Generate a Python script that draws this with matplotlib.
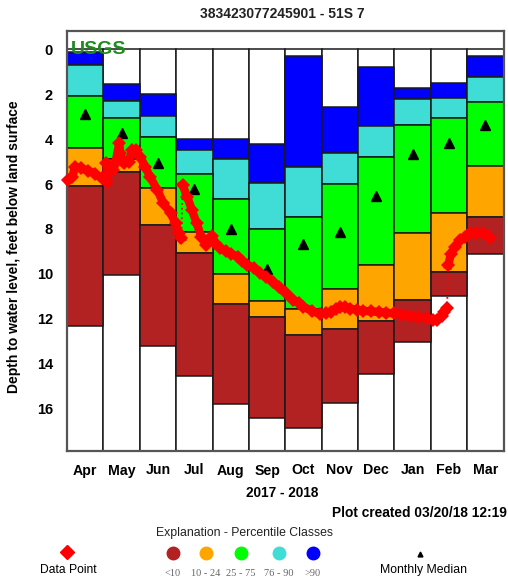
import calendar
import pandas as pd
import matplotlib
matplotlib.use("Agg")
import matplotlib.pyplot as plt
from matplotlib.lines import Line2D

plt.rcParams["font.family"] = ["Liberation Sans", "DejaVu Sans"]

# ---- monthly percentile statistics (feet below land surface) ----
months = ["Apr", "May", "Jun", "Jul", "Aug", "Sep", "Oct", "Nov", "Dec", "Jan", "Feb", "Mar"]
level_highest = [0.10, 1.53, 2.00, 4.00, 4.00, 4.23, 0.28, 2.56, 0.77, 1.74, 1.49, 0.28]
pct_90 = [0.70, 2.30, 2.97, 4.49, 4.90, 5.94, 5.23, 4.64, 3.42, 2.23, 2.18, 1.22]
pct_75 = [2.07, 3.08, 3.89, 5.57, 6.68, 8.01, 7.46, 6.00, 4.81, 3.37, 3.05, 2.36]
pct_25 = [4.39, 4.90, 6.16, 8.16, 10.01, 11.22, 11.57, 10.70, 9.61, 8.17, 7.28, 5.20]
pct_10 = [6.08, 5.48, 7.82, 9.09, 11.35, 11.94, 12.72, 12.48, 12.11, 11.17, 9.91, 7.46]
level_lowest = [12.32, 10.05, 13.21, 14.56, 15.82, 16.42, 16.89, 15.78, 14.47, 13.03, 10.99, 9.12]
monthly_median = [2.90, 3.74, 5.05, 6.24, 8.02, 9.80, 8.68, 8.13, 6.52, 4.68, 4.19, 3.37]

# ---- measured water levels, split where the record has gaps ----
seg1_dates = ["2017-04-01", "2017-04-05", "2017-04-07", "2017-04-12", "2017-04-18",
              "2017-04-24", "2017-04-29", "2017-05-04", "2017-05-03", "2017-05-09",
              "2017-05-11", "2017-05-14", "2017-05-15", "2017-05-18", "2017-05-22",
              "2017-05-25", "2017-05-28", "2017-06-01", "2017-06-05", "2017-06-09",
              "2017-06-15", "2017-06-20", "2017-06-26", "2017-06-30", "2017-07-03",
              "2017-07-05"]
seg1_depth = [5.84, 5.68, 5.25, 5.30, 5.40,
              5.55, 5.75, 5.90, 5.08, 5.38,
              5.00, 4.19, 4.64, 5.08, 5.00,
              4.49, 4.49, 4.79, 5.23, 5.68,
              6.27, 6.86, 7.31, 7.76, 8.20,
              8.42]
seg2_dates = ["2017-07-06", "2017-07-10", "2017-07-14", "2017-07-18", "2017-07-22",
              "2017-07-26", "2017-07-29", "2017-07-31", "2017-08-03", "2017-08-07",
              "2017-08-12", "2017-08-16", "2017-08-22", "2017-08-26", "2017-08-30",
              "2017-09-05", "2017-09-10", "2017-09-15", "2017-09-20", "2017-09-25",
              "2017-10-01", "2017-10-07", "2017-10-12", "2017-10-16", "2017-10-23",
              "2017-10-30", "2017-11-04", "2017-11-08", "2017-11-12", "2017-11-16",
              "2017-11-20", "2017-11-24", "2017-11-30", "2017-12-05", "2017-12-12",
              "2017-12-18", "2017-12-24", "2017-12-31", "2018-01-07", "2018-01-14",
              "2018-01-21", "2018-01-28", "2018-02-02", "2018-02-05", "2018-02-09",
              "2018-02-11", "2018-02-13"]
seg2_depth = [6.05, 6.57, 7.16, 7.76, 8.35,
              8.70, 8.50, 8.30, 8.65, 8.87,
              9.00, 9.10, 9.25, 9.45, 9.60,
              9.75, 9.98, 10.15, 10.35, 10.60,
              10.85, 11.15, 11.30, 11.47, 11.65,
              11.80, 11.75, 11.69, 11.55, 11.47,
              11.50, 11.55, 11.62, 11.65, 11.68,
              11.70, 11.73, 11.77, 11.82, 11.88,
              11.93, 11.99, 12.04, 12.06, 11.88,
              11.70, 11.54]
seg3_dates = ["2018-02-14", "2018-02-16", "2018-02-19", "2018-02-23", "2018-02-27",
              "2018-03-03", "2018-03-08", "2018-03-14", "2018-03-18", "2018-03-20"]
seg3_depth = [9.61, 9.10, 8.80, 8.50, 8.35,
              8.20, 8.20, 8.20, 8.30, 8.42]

colors = {"lt10": "#B22222", "10_24": "#FFA500", "25_75": "#00FF00",
          "76_90": "#40DDD6", "gt90": "#0000FF"}
BOTTOM = 17.9
TOP = -0.82


def date_to_x(dates):
    out = []
    for d in pd.to_datetime(dates):
        idx = (d.year - 2017) * 12 + d.month - 4
        ndays = calendar.monthrange(d.year, d.month)[1]
        out.append(idx - 0.5 + (d.day - 0.5) / ndays)
    return out


fig = plt.figure(figsize=(5.08, 5.81), dpi=100)
ax = fig.add_axes([67 / 508, 1 - 451 / 581, (503.5 - 67) / 508, (451 - 31) / 581])

x = list(range(len(months)))
edge = dict(edgecolor="#1a1a1a", linewidth=1.1, width=1.0)
# white background column from land surface to bottom
ax.bar(x, [BOTTOM] * 12, bottom=0, color="white", **edge)
bands = [
    (level_highest, pct_90, colors["gt90"]),
    (pct_90, pct_75, colors["76_90"]),
    (pct_75, pct_25, colors["25_75"]),
    (pct_25, pct_10, colors["10_24"]),
    (pct_10, level_lowest, colors["lt10"]),
]
for top, bot, col in bands:
    ax.bar(x, [b - t for t, b in zip(top, bot)], bottom=top, color=col, **edge)

ax.plot(x, monthly_median, linestyle="none", marker="^", color="black",
        markersize=6.5, zorder=5)

# water-level record
for d, v in [(seg1_dates, seg1_depth), (seg2_dates, seg2_depth), (seg3_dates, seg3_depth)]:
    ax.plot(date_to_x(d), v, color="red", linewidth=6, marker="D", markersize=7,
            markeredgewidth=0, solid_joinstyle="round", zorder=6, clip_on=False)
for a, b in [((seg1_dates[-1], seg1_depth[-1]), (seg2_dates[0], seg2_depth[0])),
             ((seg2_dates[-1], seg2_depth[-1]), (seg3_dates[0], seg3_depth[0]))]:
    ax.plot(date_to_x([a[0], b[0]]), [a[1], b[1]], color="red", linewidth=1.3,
            linestyle=":", zorder=6)

ax.set_xlim(-0.5, 11.5)
ax.set_ylim(BOTTOM, TOP)
ax.set_xticks(x)
ax.set_xticklabels(months, fontsize=10.2, fontweight="bold")
ax.set_yticks(range(0, 17, 2))
ax.set_yticklabels([str(v) for v in range(0, 17, 2)], fontsize=10.5, fontweight="bold")
ax.tick_params(length=0, pad=9)
ax.tick_params(axis="y", pad=10)
for s in ax.spines.values():
    s.set_color("#555555")
    s.set_linewidth(1.6)

fig.text(71 / 508, 1 - 49 / 581, "USGS", color="#1E8C1E",
         fontsize=14, fontweight="bold", va="center", ha="left", zorder=7)

fig.text(282 / 508, 1 - 14 / 581, "383423077245901 - 51S 7", ha="center", va="center",
         fontsize=10, fontweight="bold", color="#222222")
fig.text(14 / 508, 1 - 247 / 581, "Depth to water level, feet below land surface",
         rotation=90, ha="center", va="center", fontsize=10, fontweight="bold")
fig.text(282 / 508, 1 - 493 / 581, "2017 - 2018", ha="center", va="center",
         fontsize=9.8, fontweight="bold")
fig.text(507 / 508, 1 - 513 / 581, "Plot created 03/20/18 12:19", ha="right", va="center",
         fontsize=9.9, fontweight="bold")

# ---- explanation ----
leg = fig.add_axes([0, 0, 1, 1], facecolor="none")
leg.set_xlim(0, 508)
leg.set_ylim(581, 0)
leg.axis("off")
leg.text(244, 533, "Explanation - Percentile Classes", ha="center", va="center",
         fontsize=8.8, color="#222222")
leg.add_line(Line2D([67], [552], marker="D", color="red", markersize=7, linestyle="none"))
leg.text(68, 570, "Data Point", ha="center", va="center", fontsize=8.7)
class_labels = ["<10", "10 - 24", "25 - 75", "76 - 90", ">90"]
class_x = [173, 206, 241, 279, 313]
for cx, key, lab in zip(class_x, ["lt10", "10_24", "25_75", "76_90", "gt90"], class_labels):
    leg.add_line(Line2D([cx], [552.5], marker="o", color=colors[key], markersize=9,
                        linestyle="none"))
    leg.text(cx, 573, lab, ha="center", va="center", fontsize=7.5, color="#666666",
             family=["Liberation Serif", "DejaVu Serif"])
leg.add_line(Line2D([420], [554], marker="^", color="black", markersize=3.5, linestyle="none"))
leg.text(423, 570, "Monthly Median", ha="center", va="center", fontsize=8.8)

fig.savefig("out.png", dpi=100)
